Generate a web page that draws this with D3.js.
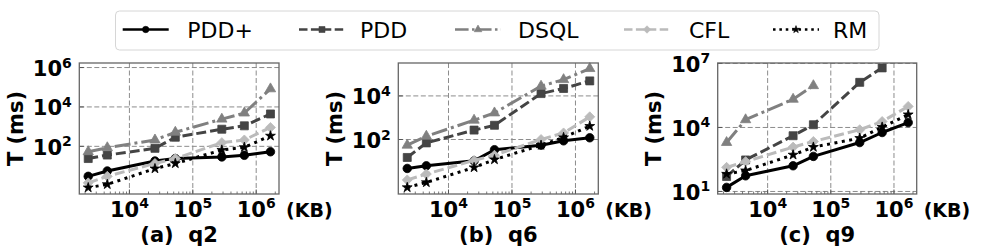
<!DOCTYPE html>
<html><head><meta charset="utf-8">
<script src="https://cdn.jsdelivr.net/npm/d3@7"></script>
<style>body{margin:0;background:#fff} svg{display:block} text{font-family:"DejaVu Sans",sans-serif}</style>
</head><body><svg id="c" width="997" height="249"></svg>
<script>
// ---------- data ----------
const sizesKB = [2240, 4480, 25300, 53000, 287000, 650000, 1680000];
const seriesNames = ["PDD+", "PDD", "DSQL", "CFL", "RM"];
const panelTitles = ["(a)  q2", "(b)  q6", "(c)  q9"];
const xTickValues = [1e4, 1e5, 1e6];
const xLimits = [1620, 2.29e6];
const yTicksQ2 = [1e2, 1e4, 1e6];
const yTicksQ6 = [1e2, 1e4];
const yTicksQ9 = [1e1, 1e4, 1e7];
const yLimQ2 = [0.38, 1.7e6];
const yLimQ6 = [0.316, 3.24e5];
const yLimQ9 = [7.6, 1.05e7];
// q2
const q2PDDplus = [3.0, 5.6, 18, 24, 29, 35, 53];
const q2PDD     = [24, 36, 79, 290, 740, 1100, 4400];
const q2DSQL    = [53, 85, 210, 520, 2400, 4900, 83000];
const q2CFL     = [1.4, 3.0, 13.5, 24, 154, 210, 910];
const q2RM      = [0.8, 1.17, 7.4, 13.5, 65, 89, 340];
// q6
const q6PDDplus = [4.7, 6.2, 10.5, 34, 55, 87, 120];
const q6PDD     = [15, 70, 270, 450, 12800, 22000, 49000];
const q6DSQL    = [55, 142, 770, 1660, 28000, 56000, 180000];
const q6CFL     = [1.4, 2.6, 11, 19, 100, 200, 1100];
const q6RM      = [0.63, 1.07, 5.2, 12, 55, 124, 410];
// q9
const q9PDDplus = [15.5, 54, 160, 440, 1960, 5800, 17000];
const q9PDD     = [50, 300, 4100, 13400, 1.3e6, 6.2e6, null];
const q9DSQL    = [1970, 23000, 2.1e5, 9.1e5, null, null, null];
const q9CFL     = [135, 250, 1200, 2200, 7800, 19000, 97000];
const q9RM      = [66, 95, 520, 1200, 3150, 10400, 40000];

// ---------- layout / style ----------
const panels = [
  {title: panelTitles[0], left: 79.3, right: 279, yTicks: yTicksQ2, yLim: yLimQ2, series: [q2PDDplus, q2PDD, q2DSQL, q2CFL, q2RM]},
  {title: panelTitles[1], left: 398.3, right: 598.3, yTicks: yTicksQ6, yLim: yLimQ6, series: [q6PDDplus, q6PDD, q6DSQL, q6CFL, q6RM]},
  {title: panelTitles[2], left: 717.7, right: 916.7, yTicks: yTicksQ9, yLim: yLimQ9, series: [q9PDDplus, q9PDD, q9DSQL, q9CFL, q9RM]}
];
const plotTop = 63, plotBottom = 194;
const styles = [
  {color: "#000000", dash: null,        marker: "circle",   lw: 3},
  {color: "#444444", dash: "10,4",      marker: "square",   lw: 3},
  {color: "#808080", dash: "16,4,3,4",  marker: "triangle", lw: 3},
  {color: "#bbbbbb", dash: "10,4",      marker: "diamond",  lw: 3},
  {color: "#000000", dash: "3,4.5",     marker: "star",     lw: 3}
];

function markerPath(kind, s) {
  if (kind === "circle") return d3.symbol(d3.symbolCircle, 57 * s * s)();
  if (kind === "square") return d3.symbol(d3.symbolSquare, 64 * s * s)();
  if (kind === "triangle") return d3.symbol(d3.symbolTriangle, 46 * s * s)();
  if (kind === "star") return d3.symbol(d3.symbolStar, 30 * s * s)();
  const r = 5 * s;
  return `M0,${-r}L${r},0L0,${r}L${-r},0Z`;
}

const svg = d3.select("#c");
const fontB = "bold";

function powLabel(sel, v) {
  const e = Math.round(Math.log10(v));
  sel.append("tspan").text("10");
  sel.append("tspan").attr("font-size", 14).attr("dy", -8.5).text(String(e));
}

panels.forEach((p, pi) => {
  const x = d3.scaleLog().domain(xLimits).range([p.left, p.right]);
  const y = d3.scaleLog().domain(p.yLim).range([plotBottom, plotTop]);
  const g = svg.append("g");

  g.selectAll(".gx").data(xTickValues).join("line")
    .attr("x1", d => x(d)).attr("x2", d => x(d)).attr("y1", plotTop).attr("y2", plotBottom)
    .attr("stroke", "#8c8c8c").attr("stroke-width", 1).attr("stroke-dasharray", "5,2.5");
  g.selectAll(".gy").data(p.yTicks).join("line")
    .attr("x1", p.left).attr("x2", p.right).attr("y1", d => y(d)).attr("y2", d => y(d))
    .attr("stroke", "#8c8c8c").attr("stroke-width", 1).attr("stroke-dasharray", "5,2.5");

  const minors = [];
  for (let e = 3; e <= 6; e++) for (let m = 2; m <= 9; m++) {
    const v = m * Math.pow(10, e);
    if (v > xLimits[0] && v < xLimits[1]) minors.push(v);
  }
  g.selectAll(".mx").data(minors).join("line")
    .attr("x1", d => x(d)).attr("x2", d => x(d)).attr("y1", plotBottom).attr("y2", plotBottom - 2.5)
    .attr("stroke", "#555").attr("stroke-width", 0.8);
  g.selectAll(".Mx").data(xTickValues).join("line")
    .attr("x1", d => x(d)).attr("x2", d => x(d)).attr("y1", plotBottom).attr("y2", plotBottom - 4.5)
    .attr("stroke", "#555").attr("stroke-width", 1);
  g.selectAll(".My").data(p.yTicks).join("line")
    .attr("x1", p.left).attr("x2", p.left + 4.5).attr("y1", d => y(d)).attr("y2", d => y(d))
    .attr("stroke", "#555").attr("stroke-width", 1);

  const clipId = "clip" + pi;
  svg.append("clipPath").attr("id", clipId).append("rect")
    .attr("x", p.left - 6).attr("y", plotTop - 6).attr("width", p.right - p.left + 12).attr("height", plotBottom - plotTop + 12);
  const sg = g.append("g").attr("clip-path", `url(#${clipId})`);
  p.series.forEach((vals, si) => {
    const st = styles[si];
    const pts = vals.map((v, i) => [sizesKB[i], v]).filter(d => d[1] != null);
    const line = d3.line().x(d => x(d[0])).y(d => y(d[1]));
    sg.append("path").attr("d", line(pts)).attr("fill", "none")
      .attr("stroke", st.color).attr("stroke-width", st.lw)
      .attr("stroke-dasharray", st.dash).attr("stroke-linejoin", "round");
    sg.selectAll(null).data(pts).join("path")
      .attr("d", markerPath(st.marker, 1))
      .attr("transform", d => `translate(${x(d[0])},${y(d[1])})`)
      .attr("fill", st.color).attr("stroke", st.color).attr("stroke-width", 0.8);
  });

  g.append("rect").attr("x", p.left).attr("y", plotTop).attr("width", p.right - p.left).attr("height", plotBottom - plotTop)
    .attr("fill", "none").attr("stroke", "#666").attr("stroke-width", 1.3);

  g.selectAll(".xl").data(xTickValues).join("text")
    .attr("x", d => x(d)).attr("y", 216.5).attr("text-anchor", "middle")
    .attr("font-size", 21).attr("font-weight", fontB)
    .each(function(d) { powLabel(d3.select(this), d); });
  g.selectAll(".yl").data(p.yTicks).join("text")
    .attr("x", p.left - 7.5).attr("y", d => y(d) + 8.5).attr("text-anchor", "end")
    .attr("font-size", 21).attr("font-weight", fontB)
    .each(function(d) { powLabel(d3.select(this), d); });
  g.append("text").attr("x", p.right + 7).attr("y", 216.5)
    .attr("font-size", 19).attr("font-weight", fontB).text("(KB)");
  const yl = p.left - 64;
  g.append("text").attr("transform", `translate(${yl + 7.5},${(plotTop + plotBottom) / 2}) rotate(-90)`)
    .attr("text-anchor", "middle").attr("font-size", 21).attr("font-weight", fontB).text("T (ms)");
  g.append("text").attr("x", (p.left + p.right) / 2).attr("y", 241.5).attr("text-anchor", "middle")
    .attr("font-size", 21).attr("font-weight", fontB).style("white-space", "pre").text(p.title);
});

// ---------- legend ----------
const lg = svg.append("g");
lg.append("rect").attr("x", 115.5).attr("y", 11).attr("width", 763.5).attr("height", 39).attr("rx", 4)
  .attr("fill", "#fff").attr("stroke", "#d6d6d6").attr("stroke-width", 1);
const legendLineX = [122.7, 299, 455, 624, 773];
const legendTextX = [187.3, 360, 518, 689, 833];
seriesNames.forEach((name, i) => {
  const st = styles[i];
  const x0 = legendLineX[i], x1 = x0 + 46, ly = 29.5;
  lg.append("line").attr("x1", x0).attr("x2", x1).attr("y1", ly).attr("y2", ly)
    .attr("stroke", st.color).attr("stroke-width", 2.4).attr("stroke-dasharray", st.dash ? st.dash.split(",").map(v => v * 0.85).join(",") : null);
  lg.append("path").attr("d", markerPath(st.marker, 0.75))
    .attr("transform", `translate(${(x0 + x1) / 2},${ly})`).attr("fill", st.color).attr("stroke", st.color).attr("stroke-width", 0.6);
  lg.append("text").attr("x", legendTextX[i]).attr("y", 37.5).attr("font-size", 22).text(name);
});
</script></body></html>
